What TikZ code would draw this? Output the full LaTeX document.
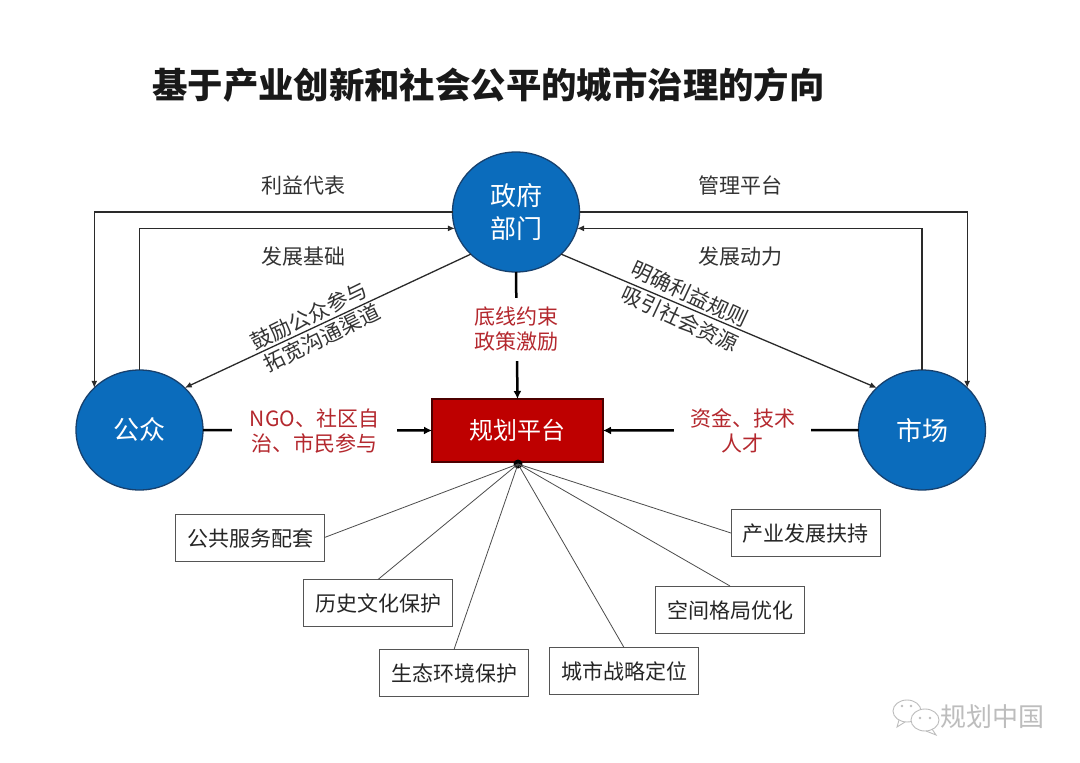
\documentclass[tikz,border=0pt]{standalone}
\usepackage{fontspec}
\setmainfont{Noto Sans CJK SC}
\usetikzlibrary{shapes.geometric,arrows.meta}
\definecolor{bluefill}{HTML}{0B6CBC}
\definecolor{blueedge}{HTML}{17406D}
\definecolor{redfill}{HTML}{BE0000}
\definecolor{redtext}{HTML}{B4282E}
\definecolor{inkline}{HTML}{2A2A2A}
\definecolor{wm}{HTML}{BDBDBD}
\tikzset{
  party/.style={ellipse,draw=blueedge,line width=1.3pt,fill=bluefill,text=white,minimum width=127pt,minimum height=120pt,inner sep=0pt,outer sep=0pt,align=center,font=\fontsize{26}{33}\selectfont},
  platform/.style={rectangle,draw=black!70!red,line width=1.2pt,fill=redfill,text=white,minimum width=171pt,minimum height=63pt,inner sep=0pt,outer sep=0pt,font=\fontsize{24}{28}\selectfont},
  task/.style={rectangle,draw=inkline!80,line width=0.9pt,fill=white,text=black!85,minimum width=149pt,minimum height=47pt,inner sep=0pt,outer sep=0pt,font=\fontsize{21}{25}\selectfont},
  caption/.style={text=black!80,inner sep=0pt,align=center,font=\fontsize{21}{25}\selectfont},
  redlabel/.style={text=redtext,fill=white,inner sep=0pt,align=center,font=\fontsize{21}{25}\selectfont},
  flow/.style={draw=inkline,line width=1.3pt,-{Latex[length=7pt,width=6pt]}},
  heavy/.style={draw=black,line width=2.5pt,-{Latex[length=8pt,width=8pt]}},
  spoke/.style={draw=black!70,line width=0.8pt},
}
\begin{document}
\begin{tikzpicture}[x=1pt,y=-1pt]
\useasboundingbox[fill=white] (0,0) rectangle (1080,763);
\node[inner sep=0pt,font=\bfseries\fontsize{35.4}{40}\selectfont,text=black!90] (title) at (488.5,85.5) {基于产业创新和社会公平的城市治理的方向};

\node[party] (gov) at (516,212) {政府\\部门};
\node[party] (pub) at (139.5,430) {公众};
\node[party] (mkt) at (922,430) {市场};
\node[platform] (plat) at (517.5,430.5) {规划平台};

\draw[flow] (gov.west) -| (pub.137);
\draw[flow] (pub.north) |- (gov.195.3);
\draw[flow] (gov.east) -| (mkt.43);
\draw[flow] (mkt.north) |- (gov.-15.3);
\draw[flow] (gov.223) -- (pub.43);
\draw[flow] (gov.-43) -- (mkt.137);

\draw[heavy] (gov.south) -- node[redlabel,pos=.445,minimum width=90pt,minimum height=63pt,yshift=-1pt] (lcons) {底线约束\\政策激励} (plat.north);
\draw[heavy] (pub.east) -- node[redlabel,pos=.487,minimum width=165pt,minimum height=50pt,yshift=-1pt] (lngo) {NGO、社区自\\治、市民参与} (plat.west);
\draw[heavy] (mkt.west) -- node[redlabel,pos=.453,minimum width=137pt,minimum height=50pt,yshift=-1pt] (lcap) {资金、技术\\人才} (plat.east);

\node[caption] (c1) at (303,186) {利益代表};
\node[caption] (c2) at (303,257) {发展基础};
\node[caption] (c3) at (740,185) {管理平台};
\node[caption] (c4) at (740,257) {发展动力};
\node[caption,rotate=26] (d1) at (309,316) {鼓励公众参与};
\node[caption,rotate=26] (d2) at (322,338) {拓宽沟通渠道};
\node[caption,rotate=-25] (d3) at (690,294) {明确利益规则};
\node[caption,rotate=-25] (d4) at (680,319) {吸引社会资源};

\node[task,text depth=0pt] (t1) at (250,537.5) {公共服务配套};
\node[task,text depth=0pt] (t2) at (378,603) {历史文化保护};
\node[task,text depth=0pt] (t3) at (454,673) {生态环境保护};
\node[task,text depth=0pt] (t4) at (624,671) {城市战略定位};
\node[task,text depth=0pt] (t5) at (730,609.5) {空间格局优化};
\node[task,text depth=0pt] (t6) at (805.5,533) {产业发展扶持};

\node[circle,fill=black,minimum size=9pt,inner sep=0pt] (hub) at (518,464) {};
\draw[spoke] (hub.center) -- (t1.east);
\draw[spoke] (hub.center) -- (t2.north);
\draw[spoke] (hub.center) -- (t3.north);
\draw[spoke] (hub.center) -- (t4.north);
\draw[spoke] (hub.center) -- (t5.north);
\draw[spoke] (hub.center) -- (t6.west);

% watermark
\draw[wm,line width=0.9pt,fill=white] (907,711) ellipse (14 and 11);
\draw[wm,line width=0.9pt] (899,720) -- (897,727) -- (905,722);
\draw[wm,line width=0.9pt,fill=white] (925,720) ellipse (14 and 11);
\draw[wm,line width=0.9pt] (932,729) -- (936,735) -- (926,731);
\fill[wm] (902,706) circle (1.3) (911,706) circle (1.3) (920,718) circle (1.3) (930,718) circle (1.3);
\node[inner sep=0pt,text=wm,font=\fontsize{26}{30}\selectfont] (wmtext) at (992,716.5) {规划中国};
\end{tikzpicture}
\end{document}
